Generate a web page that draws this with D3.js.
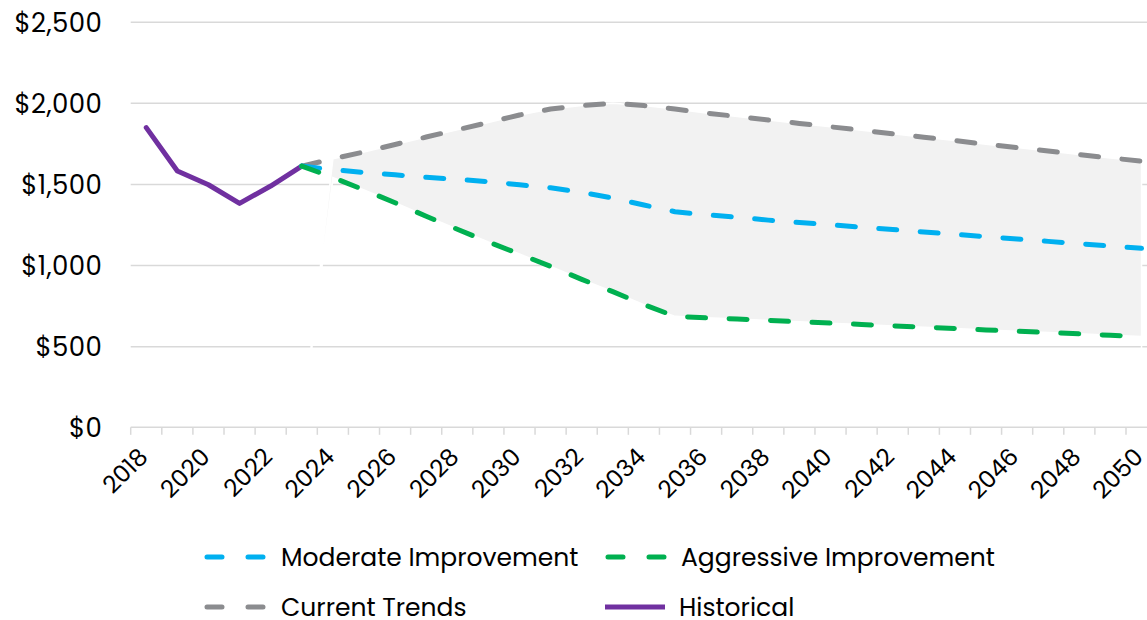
<!DOCTYPE html>
<html>
<head>
<meta charset="utf-8">
<script src="https://cdn.jsdelivr.net/npm/d3@7"></script>
<style>
  html, body { margin: 0; padding: 0; background: #ffffff; }
  svg { display: block; }
  svg text { font-family: Poppins, "Open Sans", "Noto Sans", sans-serif; }
</style>
</head>
<body>
<svg id="chart" width="1147" height="620"></svg>
<script>
// Categories on the x axis (one per year) and the years that carry a label
const years = [2018, 2019, 2020, 2021, 2022, 2023, 2024, 2025, 2026, 2027, 2028,
  2029, 2030, 2031, 2032, 2033, 2034, 2035, 2036, 2037, 2038, 2039, 2040, 2041,
  2042, 2043, 2044, 2045, 2046, 2047, 2048, 2049, 2050];
const labelYears = [2018, 2020, 2022, 2024, 2026, 2028, 2030, 2032, 2034, 2036,
  2038, 2040, 2042, 2044, 2046, 2048, 2050];
const yTicks = [0, 500, 1000, 1500, 2000, 2500];

// Historical values
const historicalYears = [2018, 2019, 2020, 2021, 2022, 2023];
const historical = [1847, 1580, 1495, 1380, 1487, 1610];

// Projections (start from the last historical year)
const projectionYears = [2023, 2024, 2025, 2026, 2027, 2028, 2029, 2030, 2031,
  2032, 2033, 2034, 2035, 2036, 2037, 2038, 2039, 2040, 2041, 2042, 2043, 2044,
  2045, 2046, 2047, 2048, 2049, 2050];
const currentTrends = [1610, 1655, 1697, 1743, 1789, 1834, 1879, 1925, 1962,
  1983, 1997, 1983, 1962, 1937, 1916, 1894, 1873, 1852, 1831, 1809, 1788, 1767,
  1745, 1724, 1703, 1681, 1660, 1641];
const moderate = [1610, 1588, 1571, 1556, 1541, 1528, 1514, 1495, 1476, 1448,
  1413, 1370, 1329, 1310, 1295, 1277, 1262, 1248, 1233, 1219, 1204, 1190, 1175,
  1161, 1146, 1132, 1117, 1103];
const aggressive = [1610, 1540, 1463, 1384, 1301, 1221, 1142, 1068, 992, 912,
  836, 756, 684, 675, 667, 659, 650, 642, 634, 625, 617, 609, 600, 592, 584,
  576, 567, 559];

// The shaded range runs from this year on (empty before it)
const rangeFirstYear = 2024;

const seriesNames = ["Moderate Improvement", "Aggressive Improvement", "Current Trends", "Historical"];
const colors = {
  moderate: "#00b0f0",
  aggressive: "#00b050",
  current: "#8b8c8f",
  historical: "#7030a0",
  band: "#f2f2f2",
  grid: "#d9d9d9"
};

const W = 1147, H = 620;
const svg = d3.select("#chart");

const x = d3.scaleBand().domain(years).range([130.7, 1157.1]);
const y = d3.scaleLinear().domain([0, 2500]).range([427.3, 21.7]);
const cx = d => x(d) + x.bandwidth() / 2;

// Gridlines + y labels
const yAxis = d3.axisLeft(y)
  .tickValues(yTicks)
  .tickSize(-(W - 130.7))
  .tickPadding(28.5)
  .tickFormat(d => "$" + d3.format(",")(d));
const gy = svg.append("g").attr("transform", "translate(130.7,0)").call(yAxis)
  .attr("font-family", null).attr("font-size", null);
gy.select(".domain").remove();
gy.selectAll(".tick line").attr("stroke", colors.grid).attr("stroke-width", 1.5)
  .filter(d => d === 0).remove();
gy.selectAll(".tick text").attr("fill", "#000").attr("font-size", 26)
  .attr("letter-spacing", 0.4)
  .attr("dy", "0.36em");

// Shaded range between aggressive and current trends
const bandData = projectionYears.map((yr, i) => ({
  year: yr,
  lo: yr < rangeFirstYear ? 0 : aggressive[i],
  hi: yr < rangeFirstYear ? 0 : currentTrends[i]
}));

// Transparent base of the stacked range (outline only)
svg.append("path")
  .datum(bandData)
  .attr("d", d3.area().x(d => cx(d.year)).y0(y(0)).y1(d => y(d.lo)))
  .attr("fill", "none")
  .attr("stroke", "#ffffff")
  .attr("stroke-width", 1.5);

svg.append("path")
  .datum(bandData)
  .attr("d", d3.area().x(d => cx(d.year)).y0(d => y(d.lo)).y1(d => y(d.hi)))
  .attr("fill", colors.band)
  .attr("stroke", "#ffffff")
  .attr("stroke-width", 1.5);

// X axis: line, boundary ticks and rotated labels
const axisY = y(0);
svg.append("line")
  .attr("x1", x.range()[0]).attr("x2", W)
  .attr("y1", axisY).attr("y2", axisY)
  .attr("stroke", colors.grid).attr("stroke-width", 1.5);
svg.append("g").selectAll("line")
  .data(years)
  .join("line")
  .attr("x1", d => x(d)).attr("x2", d => x(d))
  .attr("y1", axisY).attr("y2", axisY + 7.5)
  .attr("stroke", colors.grid).attr("stroke-width", 1.5);

const xAxis = d3.axisBottom(x).tickValues(labelYears).tickSize(0);
const gx = svg.append("g").attr("transform", `translate(0,${axisY})`).call(xAxis)
  .attr("font-family", null).attr("font-size", null);
gx.select(".domain").remove();
gx.selectAll(".tick text")
  .attr("y", 0).attr("dy", 0)
  .attr("transform", "translate(3,31) rotate(-45)")
  .attr("text-anchor", "end")
  .attr("fill", "#000")
  .attr("font-size", 24);

// Lines
const line = d3.line().x(d => cx(d[0])).y(d => y(d[1]));
const dash = "18 23.5";

svg.append("path")
  .datum(historicalYears.map((yr, i) => [yr, historical[i]]))
  .attr("d", line)
  .attr("fill", "none")
  .attr("stroke", colors.historical)
  .attr("stroke-width", 5)
  .attr("stroke-linejoin", "round")
  .attr("stroke-linecap", "round");

[[currentTrends, colors.current], [moderate, colors.moderate], [aggressive, colors.aggressive]]
  .forEach(([vals, col]) => {
    svg.append("path")
      .datum(projectionYears.map((yr, i) => [yr, vals[i]]))
      .attr("d", line)
      .attr("fill", "none")
      .attr("stroke", col)
      .attr("stroke-width", 5)
      .attr("stroke-linejoin", "round")
      .attr("stroke-linecap", "round")
      .attr("stroke-dasharray", dash);
  });

// Legend
const legend = svg.append("g").attr("font-size", 25).attr("fill", "#000");
const legendRows = [
  { name: seriesNames[0], color: colors.moderate, dashed: true, sx: 207, tx: 281, cy: 557 },
  { name: seriesNames[1], color: colors.aggressive, dashed: true, sx: 608, tx: 681, cy: 557 },
  { name: seriesNames[2], color: colors.current, dashed: true, sx: 207, tx: 281, cy: 607 },
  { name: seriesNames[3], color: colors.historical, dashed: false, sx: 605, tx: 679, cy: 607 }
];
legendRows.forEach(r => {
  legend.append("line")
    .attr("x1", r.sx).attr("x2", r.sx + 60)
    .attr("y1", r.cy).attr("y2", r.cy)
    .attr("stroke", r.color)
    .attr("stroke-width", 5)
    .attr("stroke-linecap", r.dashed ? "round" : "butt")
    .attr("stroke-dasharray", r.dashed ? "15 26" : null);
  legend.append("text")
    .attr("x", r.tx).attr("y", r.cy)
    .attr("dy", "0.36em")
    .text(r.name);
});
</script>
</body>
</html>
